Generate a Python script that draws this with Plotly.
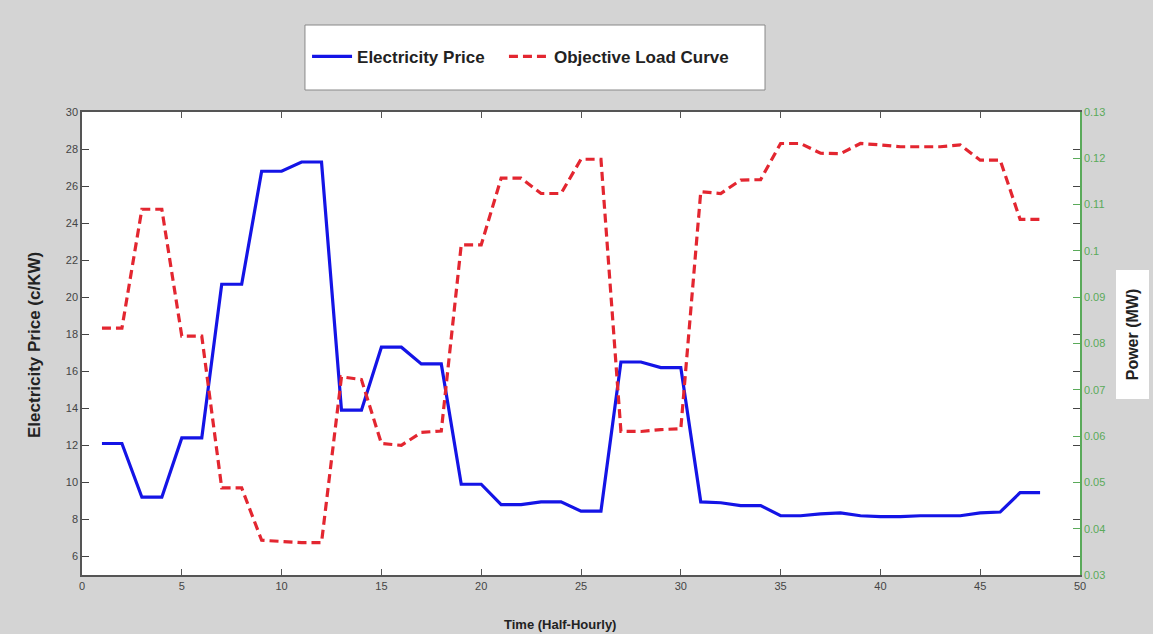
import plotly.graph_objects as go

time = list(range(1, 49))
price = [12.1, 12.1, 9.2, 9.2, 12.4, 12.4, 20.7, 20.7, 26.8, 26.8, 27.3, 27.3,
         13.9, 13.9, 17.3, 17.3, 16.4, 16.4, 9.9, 9.9, 8.8, 8.8, 8.95, 8.95,
         8.45, 8.45, 16.5, 16.5, 16.2, 16.2, 8.95, 8.9, 8.75, 8.75, 8.2, 8.2,
         8.3, 8.35, 8.2, 8.15, 8.15, 8.2, 8.2, 8.2, 8.35, 8.4, 9.45, 9.45]
load = [0.0833, 0.0833, 0.109, 0.109, 0.0816, 0.0816, 0.0488, 0.0488,
        0.0375, 0.0372, 0.0370, 0.0370, 0.0728, 0.0722, 0.0584, 0.0580,
        0.0608, 0.0611, 0.1013, 0.1013, 0.1157, 0.1157, 0.1124, 0.1124,
        0.1198, 0.1198, 0.0610, 0.0610, 0.0614, 0.0616, 0.1128, 0.1124,
        0.1153, 0.1154, 0.1232, 0.1232, 0.1211, 0.1210, 0.1232, 0.1229,
        0.1225, 0.1225, 0.1225, 0.1229, 0.1196, 0.1196, 0.1068, 0.1068]

x_ticks = list(range(0, 51, 5))
left_ticks = list(range(6, 31, 2))
right_ticks = [0.03, 0.04, 0.05, 0.06, 0.07, 0.08, 0.09, 0.10, 0.11, 0.12, 0.13]
right_labels = ["0.03", "0.04", "0.05", "0.06", "0.07", "0.08", "0.09", "0.1", "0.11", "0.12", "0.13"]

GREEN = "#5aaa5a"
FONT = "Liberation Sans, Arial, sans-serif"

fig = go.Figure()
fig.add_trace(go.Scatter(x=time, y=price, mode="lines", name="<b>Electricity Price</b>",
                         line=dict(color="#1414e6", width=3.2), yaxis="y",
                         legend="legend"))
fig.add_trace(go.Scatter(x=time, y=load, mode="lines", name="<b>Objective Load Curve</b>",
                         line=dict(color="#e32630", width=3.2, dash="9px,5px"), yaxis="y2",
                         legend="legend2"))

leg_common = dict(orientation="h", y=1.119, xanchor="left", yanchor="middle",
                  bgcolor="rgba(0,0,0,0)", font=dict(size=17, color="#222"),
                  itemwidth=40)

fig.update_layout(
    width=1153, height=634,
    margin=dict(l=82, r=73, t=112, b=59),
    paper_bgcolor="rgb(212,212,212)",
    plot_bgcolor="white",
    font=dict(family=FONT, size=11, color="#333"),
    showlegend=True,
    legend=dict(x=0.2255, **leg_common),
    legend2=dict(x=0.4228, **leg_common),
    xaxis=dict(range=[0, 50], tickvals=x_ticks, ticks="inside", ticklen=6,
               showline=True, linecolor="#555", linewidth=1.5, mirror="ticks",
               showgrid=False, zeroline=False, tickcolor="#555",
               tickfont=dict(size=11, color="#444")),
    yaxis=dict(range=[5, 30], tickvals=left_ticks, ticks="inside", ticklen=7,
               showline=True, linecolor="#555", linewidth=1.5, mirror="ticks",
               showgrid=False, zeroline=False, tickcolor="#444",
               tickfont=dict(size=11, color="#444")),
    yaxis2=dict(range=[0.03, 0.13], tickvals=right_ticks, ticktext=right_labels,
                overlaying="y", side="right", ticks="inside", ticklen=7,
                showline=True, linecolor=GREEN, linewidth=1.5,
                showgrid=False, zeroline=False, tickcolor=GREEN,
                tickfont=dict(size=11, color=GREEN)),
    shapes=[dict(type="rect", xref="paper", yref="paper",
                 x0=0.2234, x1=0.6844, y0=1.0475, y1=1.1879,
                 fillcolor="white", line=dict(color="#888", width=1), layer="below")],
    annotations=[
        dict(text="<b>Electricity Price (c/KW)</b>", xref="paper", yref="paper",
             x=-0.047, y=0.497, xanchor="center", yanchor="middle",
             showarrow=False, textangle=-90,
             font=dict(size=17, color="#222")),
        dict(text="<b>Power (MW)</b>", xref="paper", yref="paper",
             x=1.0526, y=0.5205, xanchor="center", yanchor="middle",
             showarrow=False, textangle=-90,
             bgcolor="white", width=128, height=32, borderpad=0,
             font=dict(size=16, color="#222")),
        dict(text="<b>Time (Half-Hourly)</b>", xref="paper", yref="paper",
             x=0.479, y=-0.106, xanchor="center", yanchor="middle", showarrow=False,
             font=dict(size=13, color="#222")),
    ],
)

fig.write_html("out.html")
